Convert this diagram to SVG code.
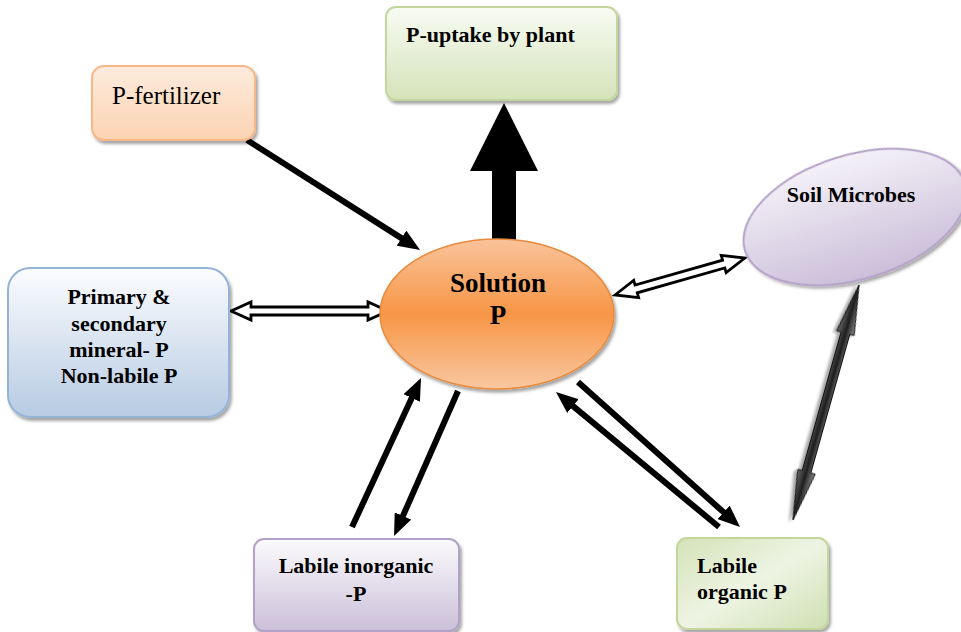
<svg xmlns="http://www.w3.org/2000/svg" width="961" height="632" viewBox="0 0 961 632">
  <defs>
    <linearGradient id="gPeach" x1="0" y1="0" x2="0" y2="1">
      <stop offset="0" stop-color="#fdebdd"/>
      <stop offset="1" stop-color="#fbd3b2"/>
    </linearGradient>
    <linearGradient id="gGreen" x1="0" y1="0" x2="0" y2="1">
      <stop offset="0" stop-color="#f8fbf3"/>
      <stop offset="1" stop-color="#d5e3ba"/>
    </linearGradient>
    <linearGradient id="gGreen2" x1="0" y1="0" x2="1" y2="1">
      <stop offset="0" stop-color="#d4e2b8"/>
      <stop offset="0.5" stop-color="#eef4e3"/>
      <stop offset="1" stop-color="#cfdfb2"/>
    </linearGradient>
    <linearGradient id="gBlue" x1="0" y1="0" x2="0" y2="1">
      <stop offset="0" stop-color="#fbfcfe"/>
      <stop offset="1" stop-color="#b7cbe3"/>
    </linearGradient>
    <linearGradient id="gPurple" x1="0" y1="0" x2="0" y2="1">
      <stop offset="0" stop-color="#fbfafc"/>
      <stop offset="1" stop-color="#cbc0d9"/>
    </linearGradient>
    <linearGradient id="gPurpleEl" x1="0" y1="0" x2="0" y2="1">
      <stop offset="0" stop-color="#f4f1f8"/>
      <stop offset="1" stop-color="#cbbfd9"/>
    </linearGradient>
    <linearGradient id="gOrange" x1="0" y1="0" x2="0" y2="1">
      <stop offset="0" stop-color="#fac39a"/>
      <stop offset="0.5" stop-color="#f79646"/>
      <stop offset="1" stop-color="#fac7a0"/>
    </linearGradient>
    <linearGradient id="gGrey" x1="0" y1="0" x2="0" y2="1">
      <stop offset="0" stop-color="#8a8a8a"/>
      <stop offset="0.5" stop-color="#1e1e1e"/>
      <stop offset="1" stop-color="#6a6a6a"/>
    </linearGradient>
    <filter id="shadow" x="-10%" y="-10%" width="125%" height="130%">
      <feDropShadow dx="2" dy="3" stdDeviation="1.5" flood-color="#000" flood-opacity="0.35"/>
    </filter>
    <marker id="head" markerUnits="userSpaceOnUse" markerWidth="22" markerHeight="18" viewBox="0 0 22 18" refX="12" refY="9" orient="auto">
      <path d="M0,0 L22,9 L0,18 z" fill="#000"/>
    </marker>
    <style>
      text { font-family: 'Liberation Serif', 'Times New Roman', Times, Tinos, 'Noto Serif', 'DejaVu Serif', 'Nimbus Roman', FreeSerif, Georgia, serif; fill: #000; }
      .lbl { font-weight: bold; font-size: 22px; }
      .reg { font-size: 25px; }
      .big { font-size: 27px; }
      .flow { stroke: #000; stroke-width: 6; fill: none; marker-end: url(#head); }
      .hollow { fill: #fff; stroke: #000; stroke-width: 2.8; stroke-linejoin: miter; }
    </style>
  </defs>

  <!-- connectors -->
  <g id="connectors">
    <!-- uptake into the plant -->
    <path d="M492,240 L492,171 L470,171 L504,103 L538,171 L516,171 L516,240 z" fill="#000"/>
    <!-- fertilizer input -->
    <line class="flow" x1="247" y1="140" x2="411.6" y2="244.6"/>
    <!-- primary mineral exchange -->
    <path class="hollow" transform="translate(231,311)" d="M0,0 L20,-9 L20,-4 L137,-4 L137,-9 L157,0 L137,9 L137,4 L20,4 L20,9 z"/>
    <!-- microbial exchange -->
    <path class="hollow" transform="translate(615,295) rotate(-15.9)" d="M0,0 L22,-9 L22,-4 L113,-4 L113,-9 L135,0 L113,9 L113,4 L22,4 L22,9 z"/>
    <!-- labile inorganic pair -->
    <line class="flow" x1="352" y1="527" x2="416.8" y2="387.1"/>
    <line class="flow" x1="458" y1="391" x2="398.1" y2="526.9"/>
    <!-- labile organic pair -->
    <line class="flow" x1="719" y1="527" x2="563.7" y2="398.4"/>
    <line class="flow" x1="578" y1="382" x2="732.6" y2="520.3"/>
    <!-- microbes to organic -->
    <path transform="translate(859,285) rotate(105.7)" filter="url(#shadow)" fill="url(#gGrey)" stroke="#111" stroke-width="1" d="M0,0 L50,-9 L50,-4.5 L194,-4.5 L194,-9 L244,0 L194,9 L194,4.5 L50,4.5 L50,9 z"/>
  </g>

  <g id="fertilizer">
    <rect x="92" y="66" width="163" height="74" rx="12" fill="url(#gPeach)" stroke="#f8b789" stroke-width="2" filter="url(#shadow)"/>
    <text class="reg" x="112" y="104">P-fertilizer</text>
  </g>

  <g id="uptake">
    <rect x="386" y="7" width="231" height="93" rx="10" fill="url(#gGreen)" stroke="#c3d69b" stroke-width="2" filter="url(#shadow)"/>
    <text class="lbl" x="406" y="42">P-uptake by plant</text>
  </g>

  <g id="primary">
    <rect x="8" y="268" width="221" height="149" rx="22" fill="url(#gBlue)" stroke="#95b3d7" stroke-width="2" filter="url(#shadow)"/>
    <text class="lbl" text-anchor="middle" x="119" y="304">Primary &amp;</text>
    <text class="lbl" text-anchor="middle" x="119" y="331">secondary</text>
    <text class="lbl" text-anchor="middle" x="119" y="357">mineral- P</text>
    <text class="lbl" text-anchor="middle" x="119" y="383">Non-labile P</text>
  </g>

  <g id="solution">
    <ellipse cx="497" cy="314" rx="117" ry="75" fill="url(#gOrange)" stroke="#e88a3c" stroke-width="1.5" filter="url(#shadow)"/>
    <text class="lbl big" text-anchor="middle" x="498" y="292">Solution</text>
    <text class="lbl big" text-anchor="middle" x="498" y="324">P</text>
  </g>

  <g id="microbes">
    <ellipse cx="855" cy="217" rx="115" ry="62" transform="rotate(-17 855 217)" fill="url(#gPurpleEl)" stroke="#b3a2c7" stroke-width="2" filter="url(#shadow)"/>
    <text class="lbl" text-anchor="middle" x="851" y="202">Soil Microbes</text>
  </g>

  <g id="inorganic">
    <rect x="254" y="539" width="205" height="92" rx="10" fill="url(#gPurple)" stroke="#b3a2c7" stroke-width="2" filter="url(#shadow)"/>
    <text class="lbl" text-anchor="middle" x="356" y="573">Labile inorganic</text>
    <text class="lbl" text-anchor="middle" x="356" y="601">-P</text>
  </g>

  <g id="organic">
    <rect x="677" y="538" width="151" height="91" rx="10" fill="url(#gGreen2)" stroke="#c3d69b" stroke-width="2" filter="url(#shadow)"/>
    <text class="lbl" x="697" y="573">Labile</text>
    <text class="lbl" x="697" y="599">organic P</text>
  </g>
</svg>
